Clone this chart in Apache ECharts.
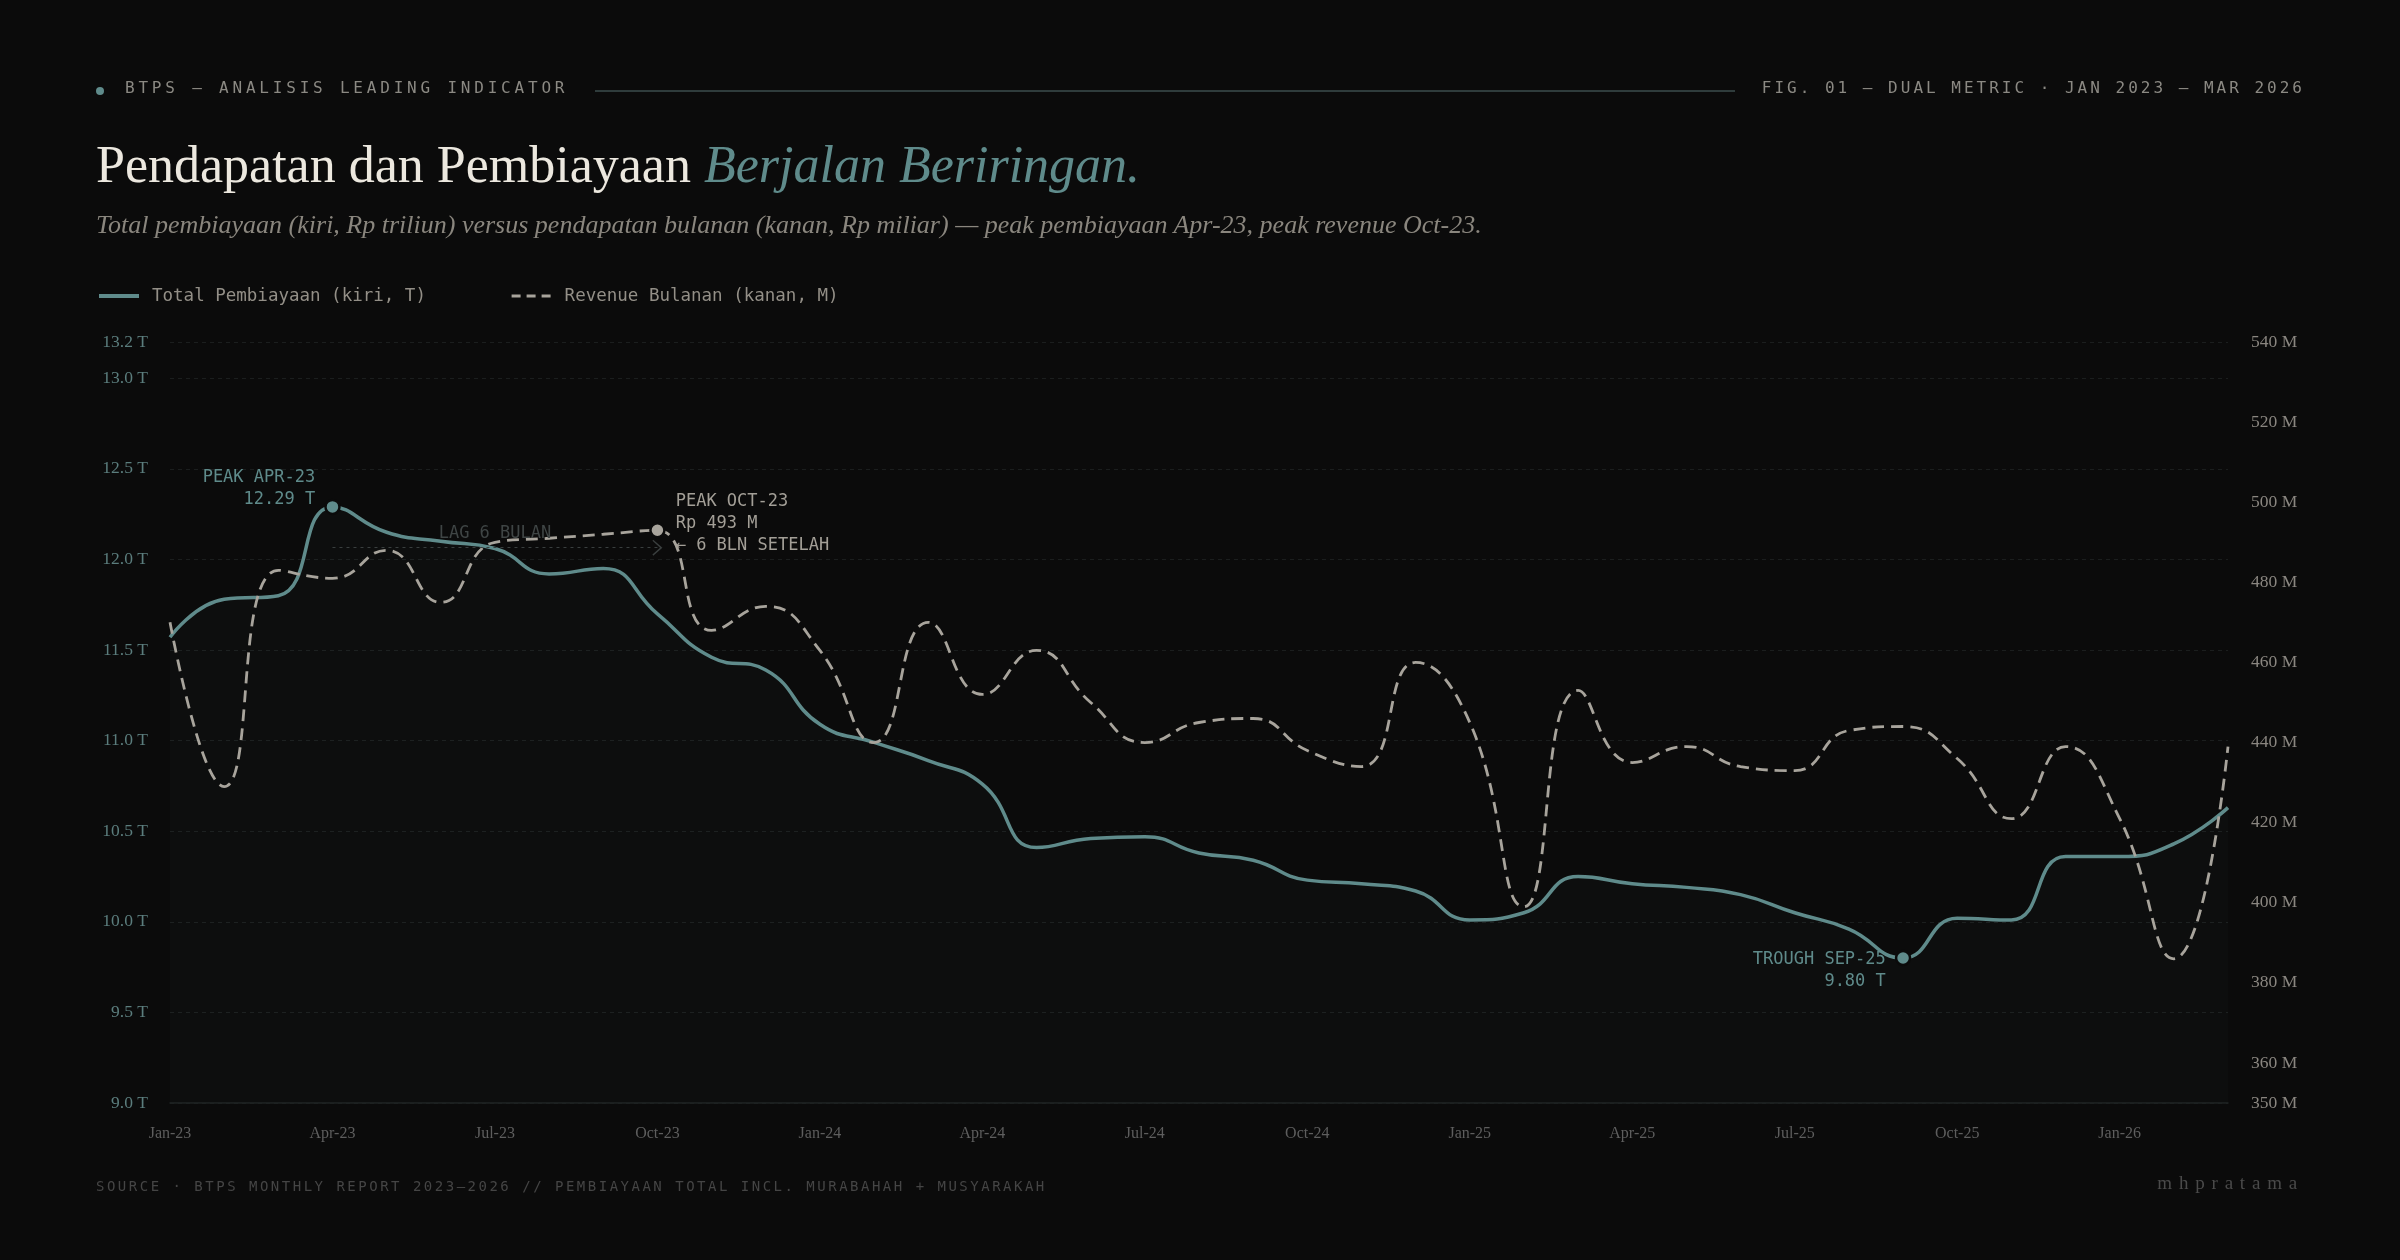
<!DOCTYPE html>
<html>
<head>
<meta charset="utf-8">
<script src="https://cdn.jsdelivr.net/npm/echarts@6/dist/echarts.min.js"></script>
<style>
html,body{margin:0;padding:0;background:#0b0b0b;width:2400px;height:1260px;overflow:hidden;}
#chart{position:absolute;left:0;top:0;width:2400px;height:1260px;}
.t{position:absolute;white-space:nowrap;margin:0;}
.mono{font-family:"DejaVu Sans Mono",monospace;}
.serif{font-family:"Liberation Serif","Times New Roman",serif;}
#hdot{position:absolute;left:96px;top:87px;width:8px;height:8px;border-radius:50%;background:#5f8b8b;}
#hline{position:absolute;left:595px;top:90px;width:1140px;height:2px;background:#2f3c3c;}
#hl{left:125px;top:80px;font-size:16px;line-height:16px;letter-spacing:3.8px;color:#8b8983;}
#hr{right:95px;top:80px;font-size:16px;line-height:16px;letter-spacing:3px;color:#8b8983;}
#title{left:96px;top:139px;font-size:52px;line-height:52px;color:#ece8df;}
#title em{color:#5f8b8b;font-style:italic;}
#sub{left:96px;top:212px;font-size:26px;line-height:26px;font-style:italic;color:#8a867e;}
#foot{left:96px;top:1179px;font-size:14px;line-height:14px;letter-spacing:2.5px;color:#454545;}
#sign{right:96px;top:1173px;font-size:19px;line-height:19px;letter-spacing:6.8px;color:#4a4a4a;}
</style>
</head>
<body>
<div id="chart"></div>
<div id="hdot"></div>
<div class="t mono" id="hl">BTPS — ANALISIS LEADING INDICATOR</div>
<div id="hline"></div>
<div class="t mono" id="hr">FIG. 01 — DUAL METRIC · JAN 2023 — MAR 2026</div>
<div class="t serif" id="title">Pendapatan dan Pembiayaan <em>Berjalan Beriringan.</em></div>
<div class="t serif" id="sub">Total pembiayaan (kiri, Rp triliun) versus pendapatan bulanan (kanan, Rp miliar) — peak pembiayaan Apr-23, peak revenue Oct-23.</div>
<div class="t mono" id="foot">SOURCE · BTPS MONTHLY REPORT 2023–2026 // PEMBIAYAAN TOTAL INCL. MURABAHAH + MUSYARAKAH</div>
<div class="t serif" id="sign">mhpratama</div>
<script>
// ---------- DATA ----------
const months = ['Jan-23','Feb-23','Mar-23','Apr-23','May-23','Jun-23','Jul-23','Aug-23','Sep-23','Oct-23','Nov-23','Dec-23',
                'Jan-24','Feb-24','Mar-24','Apr-24','May-24','Jun-24','Jul-24','Aug-24','Sep-24','Oct-24','Nov-24','Dec-24',
                'Jan-25','Feb-25','Mar-25','Apr-25','May-25','Jun-25','Jul-25','Aug-25','Sep-25','Oct-25','Nov-25','Dec-25',
                'Jan-26','Feb-26','Mar-26'];
// Total pembiayaan (Rp triliun)
const pembiayaan = [11.57, 11.78, 11.80, 12.29, 12.15, 12.10, 12.06, 11.92, 11.95, 11.70,
                    11.46, 11.39, 11.09, 10.99, 10.89, 10.76, 10.41, 10.46, 10.47, 10.38,
                    10.34, 10.23, 10.21, 10.17, 10.01, 10.05, 10.25, 10.21, 10.19, 10.15,
                    10.05, 9.96, 9.80, 10.02, 10.01, 10.36, 10.36, 10.43, 10.63];
// Revenue bulanan (Rp miliar)
const revenue = [470, 429, 483, 481, 488, 475, 490, 491, 492, 493,
                 468, 474, 463, 440, 470, 452, 463, 450, 440, 445,
                 446, 438, 434, 460, 445, 399, 453, 435, 439, 434,
                 433, 443, 444, 436, 421, 439, 421, 386, 439];
const finAxisRange = [9.0, 13.2];
const finAxisStep = 0.5;
const revAxisRange = [350, 540];
const revAxisStep = 10;
const revLabelStep = 20;
const seriesNames = ['Total Pembiayaan (kiri, T)', 'Revenue Bulanan (kanan, M)'];
const lagLevel = 12.065; // y-level (T) of the lag arrow annotation

// ---------- DERIVED ANNOTATIONS ----------
const iPeak = pembiayaan.indexOf(Math.max(...pembiayaan));
const iTrough = pembiayaan.indexOf(Math.min(...pembiayaan));
const iRevPeak = revenue.indexOf(Math.max(...revenue));
const lagMonths = iRevPeak - iPeak;

const TEAL = '#5f8b8b';
const GREY = '#a8a49c';
const BG = '#0b0b0b';
const MONO = 'DejaVu Sans Mono';
const SERIF = 'Liberation Serif';

const chart = echarts.init(document.getElementById('chart'), null, {renderer: 'canvas'});
chart.setOption({
  backgroundColor: 'transparent',
  animation: false,
  legend: [
    {
      data: [seriesNames[0]], left: 97, top: 287, padding: 0,
      itemWidth: 40, itemHeight: 20, selectedMode: false,
      lineStyle: {width: 4},
      itemStyle: {opacity: 0},
      textStyle: {fontFamily: MONO, fontSize: 17.5, color: '#938f87', padding: [0, 0, 0, 8]}
    },
    {
      data: [seriesNames[1]], left: 510, top: 287, padding: 0,
      itemWidth: 40, itemHeight: 20, selectedMode: false,
      lineStyle: {width: 3.2, type: [9, 6]},
      itemStyle: {opacity: 0},
      textStyle: {fontFamily: MONO, fontSize: 17.5, color: '#938f87', padding: [0, 0, 0, 8]}
    }
  ],
  grid: {left: 170, right: 172, top: 342, bottom: 157, containLabel: false},
  xAxis: {
    type: 'category',
    data: months,
    boundaryGap: false,
    axisLine: {show: true, lineStyle: {color: '#1f2323', width: 1.5}},
    axisTick: {show: false},
    axisLabel: {interval: 2, margin: 23, color: '#5e5e5e', fontFamily: SERIF, fontSize: 16},
    splitLine: {show: false}
  },
  yAxis: [
    {
      type: 'value', position: 'left',
      min: finAxisRange[0], max: finAxisRange[1], interval: finAxisStep,
      axisLine: {show: false}, axisTick: {show: false},
      axisLabel: {margin: 22, color: '#5b7d7d', fontFamily: SERIF, fontSize: 17.5,
                  formatter: v => v.toFixed(1) + ' T'},
      splitLine: {show: true, lineStyle: {color: '#1b1e1e', type: [4, 4], width: 1}}
    },
    {
      type: 'value', position: 'right',
      min: revAxisRange[0], max: revAxisRange[1], interval: revAxisStep,
      axisLine: {show: false}, axisTick: {show: false},
      axisLabel: {margin: 23, color: '#8a8680', fontFamily: SERIF, fontSize: 17.5,
                  formatter: v => (v === revAxisRange[0] || v % revLabelStep === 0) ? v + ' M' : ''},
      splitLine: {show: false}
    }
  ],
  series: [
    {
      name: seriesNames[0],
      type: 'line',
      yAxisIndex: 0,
      data: pembiayaan,
      smooth: 0.5,
      symbol: 'none',
      lineStyle: {color: TEAL, width: 3.5},
      itemStyle: {color: TEAL},
      areaStyle: {color: 'rgba(95,139,139,0.045)', origin: 'start'},
      z: 3,
      markPoint: {
        silent: true,
        symbol: 'circle',
        symbolSize: 14,
        itemStyle: {color: TEAL, borderColor: BG, borderWidth: 2.5},
        label: {fontFamily: MONO, fontSize: 17, lineHeight: 22, color: TEAL},
        data: [
          {
            coord: [iPeak, pembiayaan[iPeak]],
            label: {show: true, position: 'left', distance: 9, offset: [0, -18],
                    formatter: 'PEAK ' + months[iPeak].toUpperCase() + '\n' + pembiayaan[iPeak].toFixed(2) + ' T'}
          },
          {
            coord: [iTrough, pembiayaan[iTrough]],
            label: {show: true, position: 'left', distance: 9, offset: [0, 13],
                    formatter: 'TROUGH ' + months[iTrough].toUpperCase() + '\n' + pembiayaan[iTrough].toFixed(2) + ' T'}
          }
        ]
      },
      markLine: {
        silent: true,
        symbol: ['none', 'path://M0,11 L10,0 L20,11 L18.6,12 L10,2.8 L1.4,12 Z'],
        symbolSize: [16, 10],
        lineStyle: {color: '#3a3f3f', type: [3, 4], width: 1.2},
        label: {show: true, position: 'middle', distance: 6, color: '#3f4545',
                fontFamily: MONO, fontSize: 17, formatter: 'LAG ' + lagMonths + ' BULAN'},
        data: [[
          {coord: [iPeak, lagLevel], itemStyle: {color: '#3a3f3f'}},
          {coord: [iRevPeak, lagLevel], itemStyle: {color: '#3a3f3f'}}
        ]]
      }
    },
    {
      name: seriesNames[1],
      type: 'line',
      yAxisIndex: 1,
      data: revenue,
      smooth: 0.5,
      symbol: 'none',
      lineStyle: {color: GREY, width: 2.8, type: [12, 7]},
      itemStyle: {color: GREY},
      z: 4,
      markPoint: {
        silent: true,
        symbol: 'circle',
        symbolSize: 14,
        itemStyle: {color: GREY, borderColor: BG, borderWidth: 2.5},
        label: {fontFamily: MONO, fontSize: 17, lineHeight: 22, color: '#a39f97'},
        data: [
          {
            coord: [iRevPeak, revenue[iRevPeak]],
            label: {show: true, position: 'right', distance: 10, offset: [0, -7], align: 'left',
                    formatter: 'PEAK ' + months[iRevPeak].toUpperCase() + '\nRp ' + revenue[iRevPeak] + ' M\n← ' + lagMonths + ' BLN SETELAH'}
          }
        ]
      }
    }
  ]
});
</script>
</body>
</html>
